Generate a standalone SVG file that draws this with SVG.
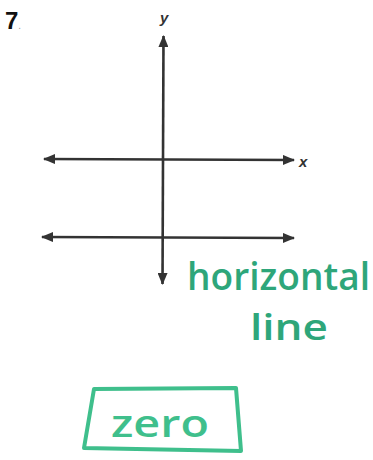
<svg xmlns="http://www.w3.org/2000/svg" width="373" height="460" viewBox="0 0 373 460">
<style>
.ax{stroke:#333;stroke-width:2.6;fill:none}
.lbl{font-family:"Liberation Sans",Arial,sans-serif;font-style:italic;font-weight:bold;fill:#333}
.hw{font-family:"Open Sans","DejaVu Sans",sans-serif;font-weight:600;fill:#2ea67a}
</style>
<defs>
<marker id="ah" viewBox="0 0 12 10" refX="11" refY="5" markerWidth="12" markerHeight="10" markerUnits="userSpaceOnUse" orient="auto-start-reverse">
<path d="M0,0 L12,5 L0,10 Z" fill="#333"/>
</marker>
</defs>
<rect width="373" height="460" fill="#fff"/>
<text x="5" y="29" font-family="Liberation Sans,Arial,sans-serif" font-size="24" font-weight="bold" fill="#111">7<tspan font-size="10" font-weight="normal" fill="#999">.</tspan></text>
<g id="connectors">
<line id="y-axis" class="ax" x1="163.5" y1="36" x2="162.5" y2="284" marker-start="url(#ah)" marker-end="url(#ah)"/>
<line id="x-axis" class="ax" x1="44" y1="159" x2="294" y2="160" marker-start="url(#ah)" marker-end="url(#ah)"/>
<line id="h-line" class="ax" x1="42" y1="237" x2="294" y2="238" marker-start="url(#ah)" marker-end="url(#ah)"/>
</g>
<g id="labels">
<text class="lbl" x="160" y="23" font-size="15">y</text>
<text class="lbl" x="299" y="167" font-size="15">x</text>
</g>
<g id="answer">
<text class="hw" x="187" y="290" font-size="38" textLength="183" lengthAdjust="spacingAndGlyphs">horizontal</text>
<text class="hw" x="250" y="340" font-size="36" textLength="78" lengthAdjust="spacingAndGlyphs">line</text>
<path d="M94,389 L236,388 L241,451 L84,448 Z" fill="none" stroke="#3fbf8c" stroke-width="4" stroke-linejoin="round"/>
<text x="111" y="437" font-family="Open Sans,DejaVu Sans,sans-serif" font-weight="600" font-size="38" fill="#3fbf8c" textLength="98" lengthAdjust="spacingAndGlyphs">zero</text>
</g>
</svg>
